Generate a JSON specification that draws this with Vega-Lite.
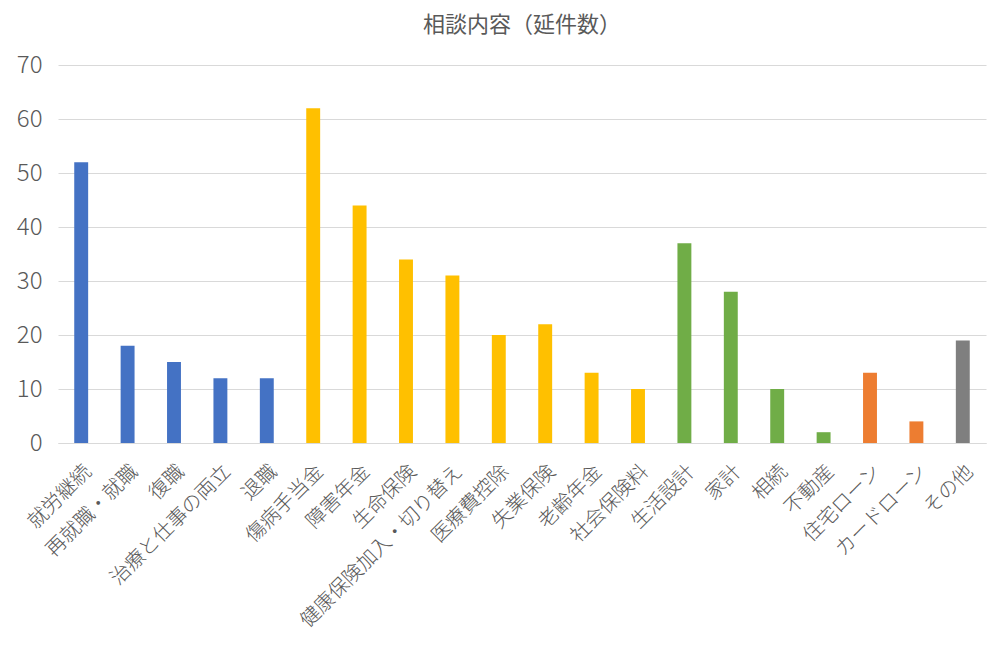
{
  "$schema": "https://vega.github.io/schema/vega-lite/v6.json",
  "width": 1000,
  "height": 653,
  "autosize": {"type": "fit", "contains": "padding"},
  "padding": {"left": 16, "top": 14, "right": 14, "bottom": 22},
  "background": "white",
  "config": {
    "view": {"stroke": null},
    "font": "Noto Sans CJK JP"
  },
  "title": {
    "text": "相談内容（延件数）",
    "fontSize": 22,
    "fontWeight": "normal",
    "color": "#595959",
    "font": "Noto Sans CJK JP",
    "offset": 16
  },
  "data": {
    "values": [
      {"category": "就労継続", "value": 52, "group": "就労"},
      {"category": "再就職・就職", "value": 18, "group": "就労"},
      {"category": "復職", "value": 15, "group": "就労"},
      {"category": "治療と仕事の両立", "value": 12, "group": "就労"},
      {"category": "退職", "value": 12, "group": "就労"},
      {"category": "傷病手当金", "value": 62, "group": "制度"},
      {"category": "障害年金", "value": 44, "group": "制度"},
      {"category": "生命保険", "value": 34, "group": "制度"},
      {"category": "健康保険加入・切り替え", "value": 31, "group": "制度"},
      {"category": "医療費控除", "value": 20, "group": "制度"},
      {"category": "失業保険", "value": 22, "group": "制度"},
      {"category": "老齢年金", "value": 13, "group": "制度"},
      {"category": "社会保険料", "value": 10, "group": "制度"},
      {"category": "生活設計", "value": 37, "group": "生活"},
      {"category": "家計", "value": 28, "group": "生活"},
      {"category": "相続", "value": 10, "group": "生活"},
      {"category": "不動産", "value": 2, "group": "生活"},
      {"category": "住宅ローン", "value": 13, "group": "ローン"},
      {"category": "カードローン", "value": 4, "group": "ローン"},
      {"category": "その他", "value": 19, "group": "その他"}
    ]
  },
  "mark": {"type": "bar"},
  "encoding": {
    "x": {
      "field": "category",
      "type": "nominal",
      "sort": null,
      "title": null,
      "scale": {"paddingInner": 0.7, "paddingOuter": 0.35},
      "axis": {
        "labelAngle": -45,
        "labelFontSize": 20,
        "labelColor": "#595959",
        "labelFont": "Noto Sans CJK JP",
        "labelFontWeight": 300,
        "labelPadding": 18,
        "ticks": false,
        "domainColor": "#d9d9d9",
        "labelLimit": 300
      }
    },
    "y": {
      "field": "value",
      "type": "quantitative",
      "title": null,
      "scale": {"domain": [0, 70]},
      "axis": {
        "values": [0, 10, 20, 30, 40, 50, 60, 70],
        "labelFontSize": 24,
        "labelColor": "#595959",
        "labelFont": "Noto Sans CJK JP",
        "labelFontWeight": 300,
        "labelPadding": 16,
        "domain": false,
        "ticks": false,
        "gridColor": "#d9d9d9"
      }
    },
    "color": {
      "field": "group",
      "type": "nominal",
      "legend": null,
      "scale": {
        "domain": ["就労", "制度", "生活", "ローン", "その他"],
        "range": ["#4472C4", "#FFC000", "#70AD47", "#ED7D31", "#7F7F7F"]
      }
    }
  }
}
